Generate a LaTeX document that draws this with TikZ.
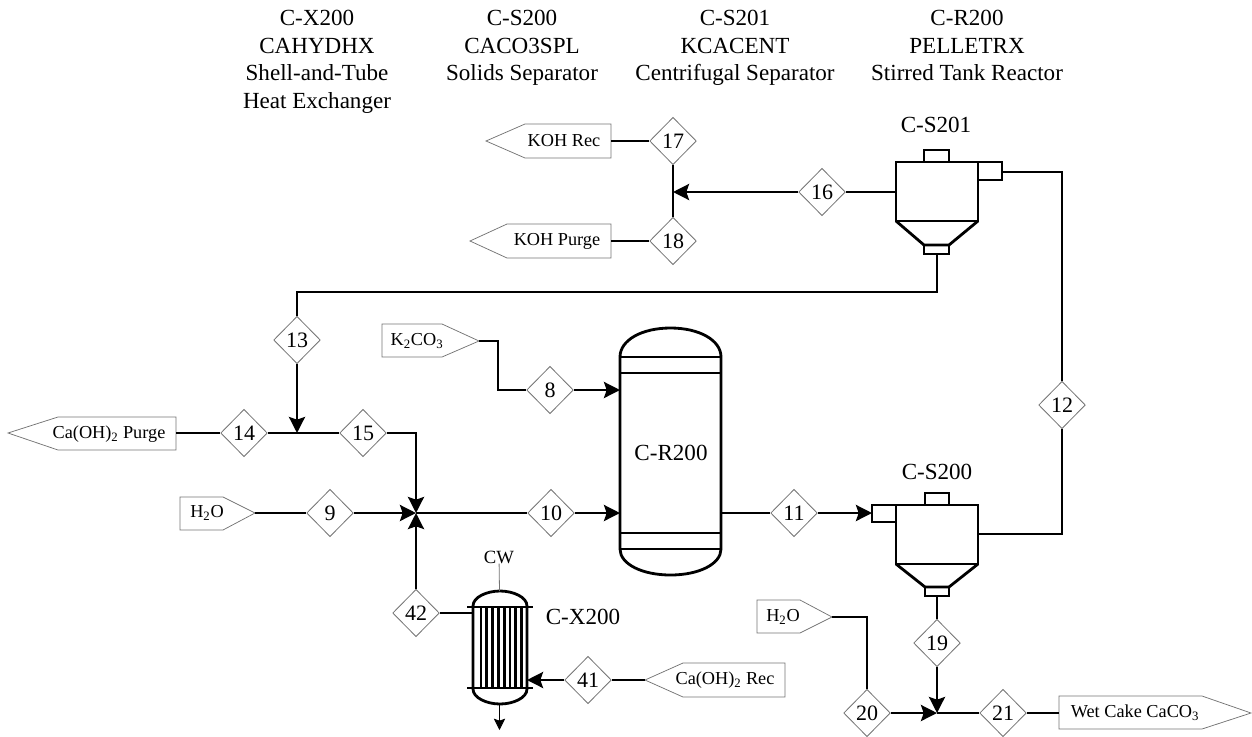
\documentclass[tikz,border=0pt]{standalone}
\usepackage{fontspec}
\setmainfont{Liberation Serif}
\usetikzlibrary{calc,shapes.geometric,arrows.meta}
\tikzset{
  stream/.style={line width=2.15pt,line join=miter},
  streamarrow/.style={stream,-{Stealth[length=12pt,width=12pt,inset=2pt]}},
  equip/.style={line width=2.1pt,line join=miter},
  thinline/.style={line width=0.6pt,draw=black!55},
  tagline/.style={line width=0.55pt,draw=black!55},
  tagtext/.style={font=\fontsize{13.7}{16}\selectfont,inner sep=0pt},
  numdiamond/.style={shape=diamond,draw=black!55,line width=0.6pt,fill=white,inner sep=0pt,
    minimum width=35pt,minimum height=35.5pt,font=\fontsize{16.5}{18}\selectfont},
  eqlabel/.style={font=\fontsize{17.3}{20.6}\selectfont,inner sep=0pt,align=center},
}
\begin{document}
\begin{tikzpicture}[x=0.75pt,y=-0.75pt]
  \useasboundingbox (0,0) rectangle (1252,736);

  % header columns
  \node[eqlabel,anchor=north] (headX) at (317,10) {C-X200\\CAHYDHX\\Shell-and-Tube\\Heat Exchanger};
  \node[eqlabel,anchor=north] (headS) at (522,10) {C-S200\\CACO3SPL\\Solids Separator};
  \node[eqlabel,anchor=north] (headK) at (735,10) {C-S201\\KCACENT\\Centrifugal Separator};
  \node[eqlabel,anchor=north] (headR) at (967,10) {C-R200\\PELLETRX\\Stirred Tank Reactor};

  % stream numbers
  \node[numdiamond] (s17) at (673,141) {17};
  \node[numdiamond] (s18) at (673,241) {18};
  \node[numdiamond] (s16) at (822,192) {16};
  \node[numdiamond] (s13) at (297,340) {13};
  \node[numdiamond] (s14) at (244,433) {14};
  \node[numdiamond] (s15) at (363,433) {15};
  \node[numdiamond] (s8) at (550,390) {8};
  \node[numdiamond] (s9) at (330,513) {9};
  \node[numdiamond] (s10) at (551,513) {10};
  \node[numdiamond] (s11) at (794,513) {11};
  \node[numdiamond] (s12) at (1062,405) {12};
  \node[numdiamond] (s19) at (937,643) {19};
  \node[numdiamond] (s20) at (867,713) {20};
  \node[numdiamond] (s21) at (1003,713) {21};
  \node[numdiamond] (s41) at (588,680) {41};
  \node[numdiamond] (s42) at (416,613) {42};

  % feed and product tags
  \draw[tagline] (486,141) -- (525,124) -- (611,124) -- (611,158) -- (525,158) -- cycle;
  \draw[tagline] (470,241) -- (507,224) -- (611,224) -- (611,258) -- (507,258) -- cycle;
  \draw[tagline] (8,433) -- (58,417) -- (176,417) -- (176,450) -- (58,450) -- cycle;
  \draw[tagline] (180,497) -- (223,497) -- (255,513) -- (223,530) -- (180,530) -- cycle;
  \draw[tagline] (382,324) -- (442,324) -- (479,341) -- (442,357) -- (382,357) -- cycle;
  \draw[tagline] (757,600) -- (800,600) -- (832,617) -- (800,633) -- (757,633) -- cycle;
  \draw[tagline] (645,680) -- (683,663) -- (785,663) -- (785,697) -- (683,697) -- cycle;
  \draw[tagline] (1059,696) -- (1202,696) -- (1251,713) -- (1202,729) -- (1059,729) -- cycle;

  \node[tagtext] (kohrec) at (564,141) {KOH Rec};
  \node[tagtext] (kohpurge) at (557,241) {KOH Purge};
  \node[tagtext] (capurge) at (109,434) {Ca(OH)\textsubscript{2} Purge};
  \node[tagtext] (waterA) at (207,513) {H\textsubscript{2}O};
  \node[tagtext] (carb) at (417,341) {K\textsubscript{2}CO\textsubscript{3}};
  \node[tagtext] (waterB) at (783,617) {H\textsubscript{2}O};
  \node[tagtext] (carec) at (725,680) {Ca(OH)\textsubscript{2} Rec};
  \node[tagtext] (cake) at (1135,713) {Wet Cake CaCO\textsubscript{3}};

  \coordinate (kohrecE) at (611,141);
  \coordinate (kohpurgeE) at (611,241);
  \coordinate (capurgeE) at (176,433);
  \coordinate (waterAE) at (255,513);
  \coordinate (carbE) at (479,341);
  \coordinate (waterBE) at (832,617);
  \coordinate (carecW) at (645,680);
  \coordinate (cakeW) at (1059,713);

  % reactor
  \draw[equip] (620,357) .. controls (620,340) and (642,328) .. (670.5,328) .. controls (699,328) and (721,340) .. (721,357)
    -- (721,549) .. controls (721,564) and (699,575) .. (670.5,575) .. controls (642,575) and (620,564) .. (620,549) -- cycle;
  \draw[equip] (620,357) -- (721,357);
  \draw[equip] (620,373) -- (721,373);
  \draw[equip] (620,533) -- (721,533);
  \draw[equip] (620,549) -- (721,549);
  \node[eqlabel] (labelR) at (671,453) {C-R200};
  \coordinate (reactorA) at (620,390);
  \coordinate (reactorB) at (620,513);
  \coordinate (reactorC) at (721,513);

  % separator C-S201
  \draw[equip] (896,162) rectangle (978,221);
  \draw[equip] (924,162) -- (924,150) -- (949,150) -- (949,162);
  \draw[equip] (978,162) -- (1002,162) -- (1002,180) -- (978,180);
  \draw[equip] (896,221) -- (924,245) -- (949,245) -- (978,221);
  \draw[equip] (924,245) rectangle (949,254);
  \node[eqlabel] (labelK) at (936,125) {C-S201};
  \coordinate (kcIn) at (896,192);
  \coordinate (kcTop) at (1002,172);
  \coordinate (kcBot) at (937,254);

  % separator C-S200
  \draw[equip] (896,505) rectangle (978,564);
  \draw[equip] (925,505) -- (925,493) -- (949,493) -- (949,505);
  \draw[equip] (896,505) -- (872,505) -- (872,522) -- (896,522);
  \draw[equip] (896,564) -- (925,587) -- (949,587) -- (978,564);
  \draw[equip] (925,587) rectangle (949,596);
  \node[eqlabel] (labelS) at (937,472) {C-S200};
  \coordinate (caIn) at (872,513);
  \coordinate (caOut) at (978,534);
  \coordinate (caBot) at (937,596);

  % heat exchanger
  \draw[equip] (473,606) .. controls (473,597) and (487,591) .. (500,591) .. controls (513,591) and (527,597) .. (527,606)
    -- (527,689) .. controls (527,698) and (513,704) .. (500,704) .. controls (487,704) and (473,698) .. (473,689) -- cycle;
  \draw[equip] (467,607) -- (533,607);
  \draw[equip] (467,688) -- (533,688);
  \foreach \tx in {481,486.8,492.6,498.4,504.2,510,515.8,521.6}
    \draw[equip] (\tx,607) -- (\tx,688);
  \node[eqlabel] (labelX) at (583,617) {C-X200};
  \node[font=\fontsize{14}{16}\selectfont,inner sep=0pt] (cw) at (499,557) {CW};
  \coordinate (hxTop) at (499.5,591);
  \coordinate (hxBot) at (499.5,704);
  \coordinate (hxOut) at (499.5,730);
  \coordinate (hxA) at (473,613);
  \coordinate (hxB) at (527,680);
  \draw[thinline] (cw) -- (hxTop);
  \draw[thinline,draw=black,-{Stealth[length=8.5pt,width=8.5pt,inset=1.5pt]}] (hxBot) -- (hxOut);

  % streams
  \coordinate (busK) at (673,192);
  \coordinate (mixA) at (297,433);
  \coordinate (mixB) at (416,513);
  \coordinate (mixC) at (937,713);

  \draw[stream] (kohrecE) -- (s17);
  \draw[stream] (kohpurgeE) -- (s18);
  \draw[stream] (s17) -- (s18);
  \draw[streamarrow] (s16) -- (busK);
  \draw[stream] (kcIn) -- (s16);
  \draw[stream] (kcBot) -- (937,292) -| (s13);
  \draw[streamarrow] (s13) -- (mixA);
  \draw[stream] (capurgeE) -- (s14);
  \draw[stream] (s14) -- (s15);
  \draw[streamarrow] (s15) -| (mixB);
  \draw[stream] (waterAE) -- (s9);
  \draw[streamarrow] (s9) -- (mixB);
  \draw[streamarrow] (s42) -- (mixB);
  \draw[stream] (mixB) -- (s10);
  \draw[streamarrow] (s10) -- (reactorB);
  \draw[stream] (carbE) -- (498,341) |- (s8);
  \draw[streamarrow] (s8) -- (reactorA);
  \draw[stream] (reactorC) -- (s11);
  \draw[streamarrow] (s11) -- (caIn);
  \draw[stream] (caOut) -| (s12);
  \draw[stream] (s12) |- (kcTop);
  \draw[stream] (caBot) -- (s19);
  \draw[streamarrow] (s19) -- (mixC);
  \draw[stream] (waterBE) -| (s20);
  \draw[streamarrow] (s20) -- (mixC);
  \draw[stream] (mixC) -- (s21);
  \draw[stream] (s21) -- (cakeW);
  \draw[stream] (s42) -- (hxA);
  \draw[stream] (carecW) -- (s41);
  \draw[streamarrow] (s41) -- (hxB);
\end{tikzpicture}
\end{document}
